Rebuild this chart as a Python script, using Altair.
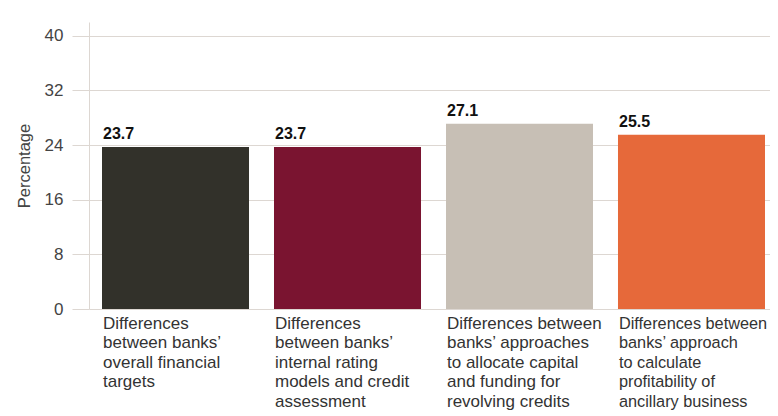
import altair as alt
import pandas as pd

categories = [
    "Differences|between banks’|overall financial|targets",
    "Differences|between banks’|internal rating|models and credit|assessment",
    "Differences between|banks’ approaches|to allocate capital|and funding for|revolving credits",
    "Differences between|banks’ approach|to calculate|profitability of|ancillary business",
]
values = [23.7, 23.7, 27.1, 25.5]
colors = ["#32312a", "#7a1430", "#c7bfb5", "#e6693a"]
y_ticks = [0, 8, 16, 24, 32, 40]

df = pd.DataFrame({
    "cat": categories,
    "value": values,
    "label": [f"{v:.1f}" for v in values],
})

grid = "#ddd7d2"

x_scale = alt.Scale(paddingInner=0.1453, paddingOuter=0.0756, range=[0, 689])

x = alt.X(
    "cat:N", sort=categories, scale=x_scale,
    axis=alt.Axis(
        title=None, labelAlign="left", labelBaseline="top",
        labelExpr="split(datum.label, '|')",
        labelFontSize={"condition": {"test": "indexof(datum.value, 'ancillary') >= 0", "value": 16.3}, "value": 17},
        labelLineHeight=19.5,
        labelColor="#333333", labelPadding=6, labelLimit=0, labelOffset=-72.5,
        domain=False, ticks=False, labelAngle=0,
    ),
)
y = alt.Y(
    "value:Q", scale=alt.Scale(domain=[0, 42], nice=False),
    axis=alt.Axis(
        values=y_ticks, title="Percentage", titleFontSize=16.5, titleFontWeight="normal",
        titleColor="#444444", labelFontSize=17, labelColor="#444444", tickSize=17,
        tickColor=grid, domainColor=grid, gridColor=grid, labelPadding=9, titlePadding=12,
    ),
)

bars = alt.Chart(df).mark_bar().encode(
    x=x, y=y,
    color=alt.Color("cat:N", scale=alt.Scale(domain=categories, range=colors), legend=None),
)

text = alt.Chart(df).mark_text(
    align="left", baseline="alphabetic", dy=-8, dx=1, fontWeight="bold",
    fontSize=16, color="#111111",
).encode(
    x=alt.X("cat:N", sort=categories, bandPosition=0),
    y="value:Q",
    text="label:N",
)

chart = (bars + text).properties(
    width=681, height=287,
    autosize=alt.AutoSizeParams(type="none"),
    padding={"left": 81, "top": 14, "right": 0, "bottom": 106},
).configure(font="Liberation Sans").configure_view(stroke=None)

chart.save("out.html", embed_options={"renderer": "svg", "actions": False})
